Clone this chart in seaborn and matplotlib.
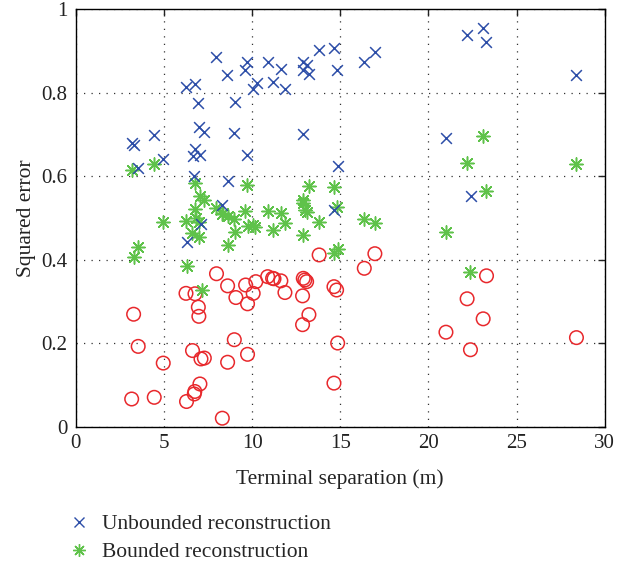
import matplotlib
matplotlib.use("Agg")
import matplotlib.pyplot as plt
from matplotlib.lines import Line2D
import seaborn as sns
import pandas as pd

# ---------------- data ----------------
unbounded_x = [7.95, 9.72, 9.59, 10.88, 8.59, 10.25, 10.06, 11.16, 6.25, 6.76, 6.91, 9.02,
               6.98, 7.29, 8.99, 4.45, 3.17, 3.28, 6.76, 6.66, 7.06, 4.96, 9.72, 3.53,
               6.72, 8.65, 8.27, 7.10, 6.28, 11.63, 11.86, 12.90, 13.09, 12.90, 13.22,
               13.80, 14.64, 14.79, 16.36, 16.96, 12.86, 14.85, 20.99, 14.64, 22.21,
               23.10, 23.25, 28.39, 22.40]
unbounded_y = [0.886, 0.873, 0.854, 0.874, 0.841, 0.822, 0.808, 0.824, 0.812, 0.821, 0.775, 0.777,
               0.717, 0.705, 0.703, 0.699, 0.680, 0.674, 0.665, 0.647, 0.651, 0.641, 0.651, 0.620,
               0.599, 0.588, 0.531, 0.486, 0.443, 0.856, 0.808, 0.874, 0.866, 0.854, 0.845,
               0.901, 0.906, 0.854, 0.874, 0.898, 0.701, 0.623, 0.692, 0.519, 0.938,
               0.954, 0.922, 0.842, 0.553]

bounded_x = [3.17, 4.45, 6.75, 9.72, 7.04, 7.29, 6.75, 7.95, 8.36, 9.59, 10.88, 8.65,
             4.96, 6.25, 6.81, 6.98, 8.27, 8.98, 9.02, 9.74, 10.06, 10.16, 11.16, 6.60,
             6.98, 8.61, 3.54, 3.28, 6.28, 7.14, 11.63, 11.86, 12.90, 12.99, 13.09, 13.80,
             12.86, 14.79, 16.36, 16.96, 20.99, 14.85, 14.64, 13.22, 14.64, 12.90, 23.10,
             22.21, 28.35, 23.25, 22.38]
bounded_y = [0.615, 0.629, 0.583, 0.579, 0.551, 0.543, 0.521, 0.523, 0.511, 0.517, 0.517, 0.505,
             0.489, 0.493, 0.499, 0.489, 0.509, 0.497, 0.467, 0.481, 0.483, 0.479, 0.471, 0.463,
             0.454, 0.435, 0.430, 0.406, 0.385, 0.326, 0.511, 0.487, 0.535, 0.519, 0.515, 0.491,
             0.459, 0.527, 0.497, 0.487, 0.467, 0.425, 0.415, 0.577, 0.573, 0.543, 0.696,
             0.632, 0.629, 0.563, 0.370]

third_x = [7.98, 8.61, 6.25, 6.76, 9.08, 9.63, 10.06, 10.21, 9.74, 10.88, 11.16, 6.95,
           6.98, 3.28, 3.54, 8.99, 6.62, 9.74, 7.10, 7.29, 4.96, 8.61, 7.04, 6.75,
           6.72, 4.45, 3.17, 6.28, 8.31, 11.24, 11.63, 11.86, 12.90, 13.09, 12.99,
           12.86, 13.80, 13.22, 12.86, 14.64, 14.79, 14.85, 14.64, 16.36, 16.96,
           20.99, 23.29, 22.19, 23.10, 22.38, 28.39]
third_y = [0.366, 0.337, 0.319, 0.318, 0.309, 0.339, 0.319, 0.347, 0.294, 0.359, 0.355, 0.286,
           0.264, 0.269, 0.192, 0.208, 0.182, 0.173, 0.162, 0.164, 0.152, 0.154, 0.102, 0.084,
           0.078, 0.070, 0.066, 0.060, 0.020, 0.354, 0.349, 0.321, 0.355, 0.347, 0.351,
           0.313, 0.411, 0.268, 0.244, 0.335, 0.327, 0.200, 0.104, 0.379, 0.414,
           0.226, 0.361, 0.306, 0.258, 0.184, 0.213]

x_ticks = [0, 5, 10, 15, 20, 25, 30]
y_ticks = [0, 0.2, 0.4, 0.6, 0.8, 1.0]
y_tick_labels = ["0", "0.2", "0.4", "0.6", "0.8", "1"]
legend_labels = ["Unbounded reconstruction", "Bounded reconstruction"]

BLUE = "#2d4ea8"
GREEN = "#5fc24a"
RED = "#e8282c"

# ---------------- style ----------------
sns.set_style("white")
plt.rcParams["font.family"] = ["Liberation Serif", "DejaVu Serif"]
plt.rcParams["xtick.direction"] = "in"
plt.rcParams["ytick.direction"] = "in"

fig = plt.figure(figsize=(6.21, 5.62), dpi=100)
ax = fig.add_axes([0.122, 0.241, 0.852, 0.743])

df_u = pd.DataFrame({"x": unbounded_x, "y": unbounded_y})
df_b = pd.DataFrame({"x": bounded_x, "y": bounded_y})
df_t = pd.DataFrame({"x": third_x, "y": third_y})

sns.scatterplot(data=df_t, x="x", y="y", ax=ax, marker="o", s=95,
                facecolor="none", edgecolor=RED, linewidth=1.1, zorder=3)
sns.scatterplot(data=df_b, x="x", y="y", ax=ax, marker=(8, 2, 0), s=90,
                color=GREEN, linewidth=1.1, zorder=4)
sns.scatterplot(data=df_u, x="x", y="y", ax=ax, marker="x", s=60,
                color=BLUE, linewidth=1.1, zorder=5)

ax.set_xlim(0, 30)
ax.set_ylim(0, 1)
ax.set_xticks(x_ticks)
ax.set_xticklabels([str(t) for t in x_ticks])
ax.set_yticks(y_ticks)
ax.set_yticklabels(y_tick_labels)
ax.tick_params(axis="both", labelsize=15, colors="#222222", top=True, right=True,
               length=5, width=1.0, pad=6)
ax.tick_params(axis="x", pad=5)
ax.grid(True, color="#333333", linestyle=(0, (1, 5)), linewidth=0.9)
for sp in ax.spines.values():
    sp.set_color("black")
    sp.set_linewidth(1.0)

ax.set_xlabel("Terminal separation (m)", fontsize=15.5, color="#222222", labelpad=12)
ax.set_ylabel("Squared error", fontsize=15.5, color="#222222", labelpad=4)

handles = [
    Line2D([], [], marker="x", linestyle="none", color=BLUE, markersize=7, markeredgewidth=1.0),
    Line2D([], [], marker=(8, 2, 0), linestyle="none", color=GREEN, markersize=9, markeredgewidth=1.0),
]
fig.legend(handles, legend_labels, loc="upper left", bbox_to_anchor=(0.110, 0.085),
           frameon=False, fontsize=15.5, handlelength=1.0, handletextpad=0.58,
           labelspacing=0.36, borderaxespad=0, borderpad=0)

fig.savefig("out.png", dpi=100)
